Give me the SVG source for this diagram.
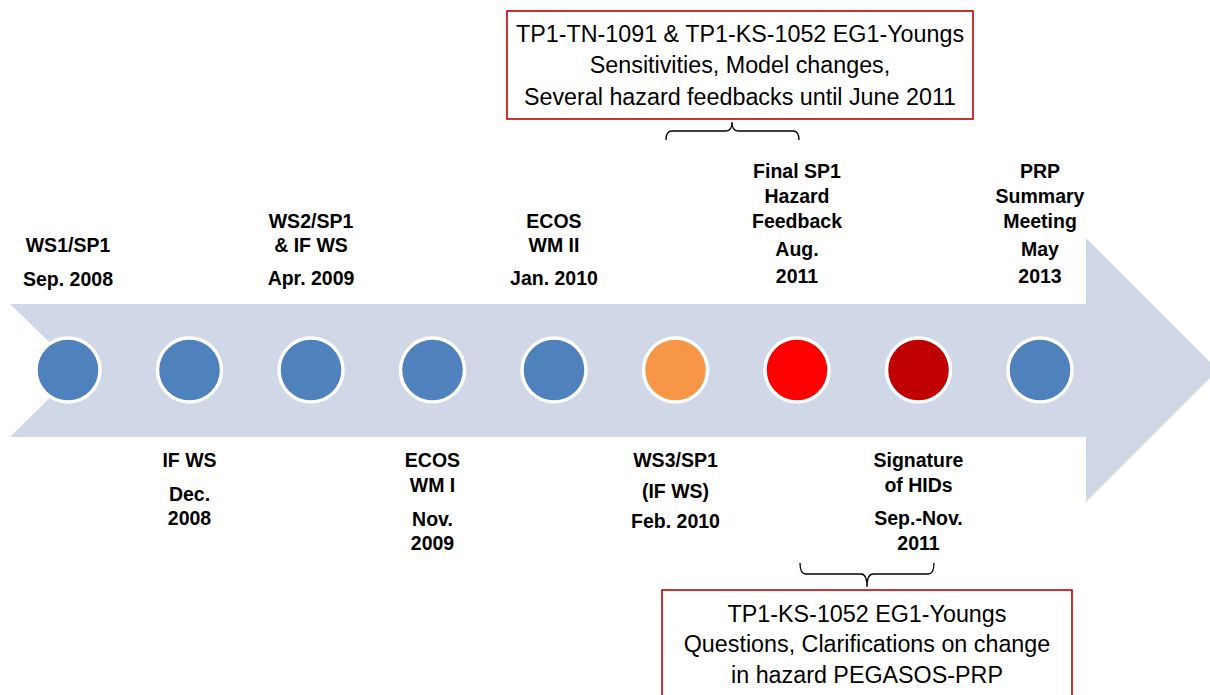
<svg xmlns="http://www.w3.org/2000/svg" width="1210" height="695" viewBox="0 0 1210 695">
  <style>
    .lbl { font-family: "Liberation Sans", Arial, sans-serif; font-weight: bold; font-size: 19.5px; fill: #000; text-anchor: middle; }
    .note { font-family: "Liberation Sans", Arial, sans-serif; font-size: 23.3px; fill: #000; text-anchor: middle; }
    .dot { stroke: #fff; stroke-width: 3.5; }
    .box { fill: #fff; stroke: #C00000; stroke-width: 1.6; }
    .brace { fill: none; stroke: #000; stroke-width: 1.3; }
  </style>

  <!-- timeline arrow -->
  <path d="M10,304 L1086,304 L1086,238 L1218,370 L1086,502 L1086,437 L10,437 L78,370 Z" fill="#D0D8E8"/>

  <!-- milestones -->
  <g id="m1"><circle class="dot" cx="68" cy="370" r="32" fill="#4F81BD"/>
    <text class="lbl" x="68" y="252">WS1/SP1</text>
    <text class="lbl" x="68" y="286">Sep. 2008</text></g>
  <g id="m2"><circle class="dot" cx="189.5" cy="370" r="32" fill="#4F81BD"/>
    <text class="lbl" x="189.5" y="467">IF WS</text>
    <text class="lbl" x="189.5" y="501">Dec.</text>
    <text class="lbl" x="189.5" y="525">2008</text></g>
  <g id="m3"><circle class="dot" cx="311" cy="370" r="32" fill="#4F81BD"/>
    <text class="lbl" x="311" y="228">WS2/SP1</text>
    <text class="lbl" x="311" y="252">&amp; IF WS</text>
    <text class="lbl" x="311" y="285">Apr. 2009</text></g>
  <g id="m4"><circle class="dot" cx="432.5" cy="370" r="32" fill="#4F81BD"/>
    <text class="lbl" x="432.5" y="467">ECOS</text>
    <text class="lbl" x="432.5" y="491.5">WM I</text>
    <text class="lbl" x="432.5" y="526">Nov.</text>
    <text class="lbl" x="432.5" y="550">2009</text></g>
  <g id="m5"><circle class="dot" cx="554" cy="370" r="32" fill="#4F81BD"/>
    <text class="lbl" x="554" y="228">ECOS</text>
    <text class="lbl" x="554" y="252">WM II</text>
    <text class="lbl" x="554" y="285">Jan. 2010</text></g>
  <g id="m6"><circle class="dot" cx="675.5" cy="370" r="32" fill="#F79646"/>
    <text class="lbl" x="675.5" y="467">WS3/SP1</text>
    <text class="lbl" x="675.5" y="498">(IF WS)</text>
    <text class="lbl" x="675.5" y="528">Feb. 2010</text></g>
  <g id="m7"><circle class="dot" cx="797" cy="370" r="32" fill="#FF0000"/>
    <text class="lbl" x="797" y="178">Final SP1</text>
    <text class="lbl" x="797" y="203">Hazard</text>
    <text class="lbl" x="797" y="228">Feedback</text>
    <text class="lbl" x="797" y="256">Aug.</text>
    <text class="lbl" x="797" y="283">2011</text></g>
  <g id="m8"><circle class="dot" cx="918.5" cy="370" r="32" fill="#C00000"/>
    <text class="lbl" x="918.5" y="467">Signature</text>
    <text class="lbl" x="918.5" y="491.5">of HIDs</text>
    <text class="lbl" x="918.5" y="525">Sep.-Nov.</text>
    <text class="lbl" x="918.5" y="550">2011</text></g>
  <g id="m9"><circle class="dot" cx="1040" cy="370" r="32" fill="#4F81BD"/>
    <text class="lbl" x="1040" y="178">PRP</text>
    <text class="lbl" x="1040" y="203">Summary</text>
    <text class="lbl" x="1040" y="228">Meeting</text>
    <text class="lbl" x="1040" y="256">May</text>
    <text class="lbl" x="1040" y="283">2013</text></g>

  <!-- annotation boxes -->
  <g id="noteTop">
    <rect class="box" x="507" y="11" width="466" height="108"/>
    <text class="note" x="740" y="42">TP1-TN-1091 &amp; TP1-KS-1052 EG1-Youngs</text>
    <text class="note" x="740" y="73">Sensitivities, Model changes,</text>
    <text class="note" x="740" y="105">Several hazard feedbacks until June 2011</text>
  </g>
  <g id="noteBottom">
    <rect class="box" x="662" y="590" width="410" height="110"/>
    <text class="note" x="867" y="622">TP1-KS-1052 EG1-Youngs</text>
    <text class="note" x="867" y="652">Questions, Clarifications on change</text>
    <text class="note" x="867" y="683">in hazard PEGASOS-PRP</text>
  </g>

  <!-- braces linking notes to time spans -->
  <g id="connectors">
    <path class="brace" d="M666,140 Q666,131 672,131 L726,131 Q732,131 732,122 Q732,131 738,131 L793,131 Q799,131 799,140"/>
    <path class="brace" d="M800,563 Q800,574 806,574 L861,574 Q867,574 867,587 Q867,574 873,574 L928,574 Q934,574 934,563"/>
  </g>
</svg>
